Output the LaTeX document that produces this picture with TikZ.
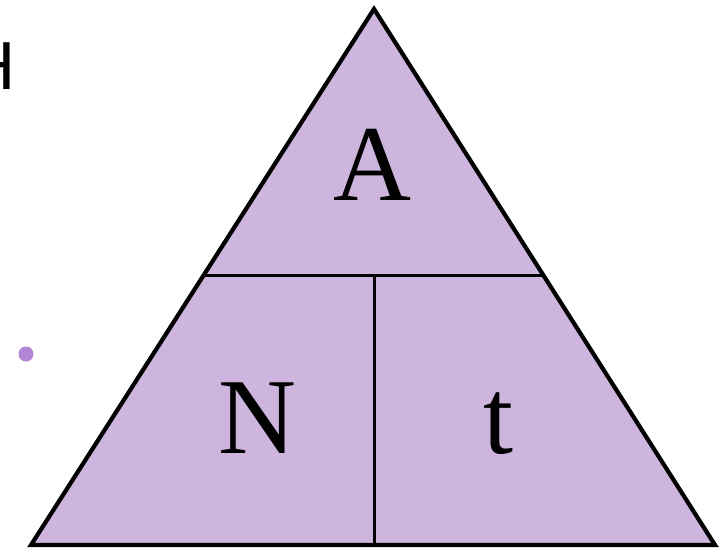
\documentclass[tikz,border=0pt]{standalone}
\usepackage{fontspec}
\setmainfont{Liberation Serif}
\newfontfamily\headfont{Liberation Sans}
\usetikzlibrary{positioning}
\definecolor{trifill}{RGB}{205, 181, 221}
\definecolor{dotpurple}{RGB}{178, 134, 212}

\begin{document}
\begin{tikzpicture}[x=1pt, y=-1pt, font=\fontsize{108}{108}\selectfont]
\useasboundingbox (0,0) rectangle (720,549);
\clip (0,0) rectangle (720,549);
\coordinate (top) at (374,9);
\coordinate (bl) at (31,545);
\coordinate (br) at (715,545);
\coordinate (ml) at (203,275);
\coordinate (mr) at (545,275);
\coordinate (mid) at (374,275);
\coordinate (bm) at (374,545);
\draw[line width=4.2pt, fill=trifill, line join=miter] (top) -- (br) -- (bl) -- cycle;
\draw[line width=3pt] (ml) -- (mr);
\draw[line width=3pt] (mid) -- (bm);
\node[anchor=base] (a) at (372,200) {A};
\node[anchor=base] (n) at (257,453) {N};
\node[anchor=base] (t) at (498,453) {t};
\node[circle, fill=dotpurple, minimum size=15pt, inner sep=0pt] (dot) at (26,354) {};
\node[anchor=base east, inner sep=0pt, font=\headfont\fontsize{68}{68}\selectfont] (h) at (16,89) {H};
\end{tikzpicture}
\end{document}
